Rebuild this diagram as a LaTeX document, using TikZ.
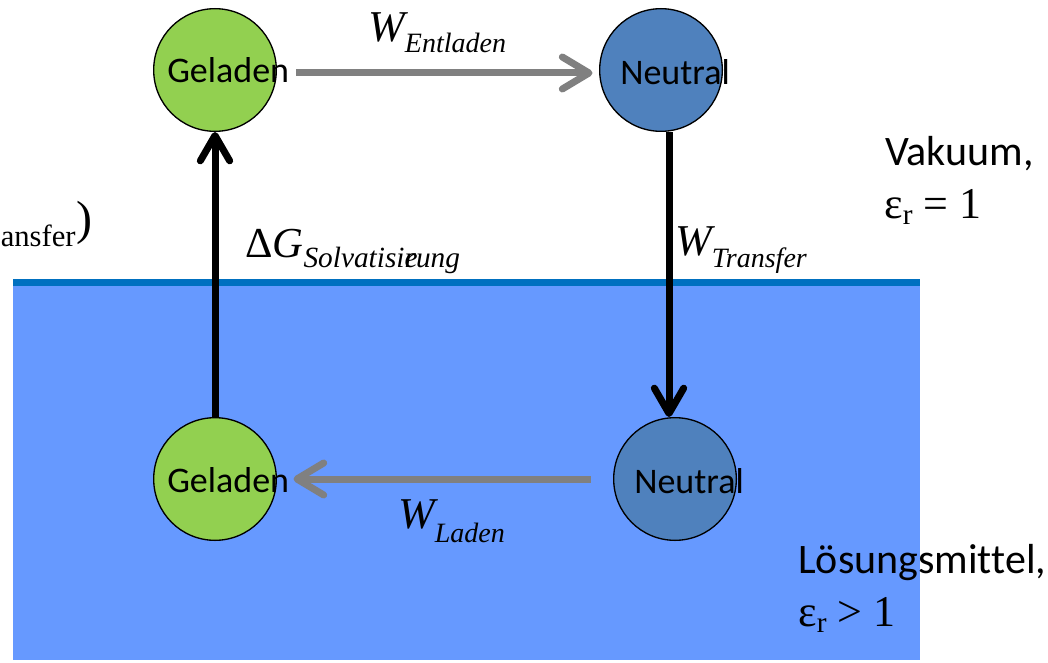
\documentclass[tikz,border=0pt]{standalone}
\usepackage{fontspec}
\setmainfont{Liberation Serif}
\newfontfamily\labelfont[Ligatures=NoCommon]{Carlito}
\usetikzlibrary{arrows.meta,calc}

\definecolor{chargedgreen}{HTML}{92D050}
\definecolor{neutralblue}{HTML}{4F81BD}
\definecolor{solvent}{HTML}{6699FF}
\definecolor{surface}{HTML}{0070C0}
\definecolor{workgray}{HTML}{808080}

\tikzset{
  state/.style={circle, draw=black, line width=1pt, minimum size=92pt, inner sep=0pt},
  charged/.style={state, fill=chargedgreen},
  neutral/.style={state, fill=neutralblue},
  statetext/.style={anchor=base west, inner sep=0pt, font=\labelfont\fontsize{27}{27}\selectfont},
  mediumtext/.style={anchor=base west, inner sep=0pt, font=\labelfont\fontsize{31.5}{31.5}\selectfont},
  formula/.style={anchor=base west, inner sep=0pt},
  workarrow/.style={draw=workgray, line width=5.25pt, -{Straight Barb[length=20pt, width=24pt, round]}},
  cyclearrow/.style={draw=black, line width=5.25pt, -{Straight Barb[length=19pt, width=22pt, round]}},
}

\newcommand{\wsym}[2]{{\fontsize{33}{33}\selectfont\itshape W\raisebox{#1}{\fontsize{21}{21}\selectfont #2}}}

\begin{document}
\begin{tikzpicture}[x=0.75pt, y=-0.75pt]
\useasboundingbox (0,0) rectangle (1048,663);

% solvent and its surface
\fill[solvent] (13,283) rectangle (920,660);
\fill[surface] (13,279) rectangle (920,286);

% states
\node[charged] (g1) at (215,70) {};
\node[neutral] (n1) at (661,70) {};
\node[charged] (g2) at (215,479) {};
\node[neutral] (n2) at (675,479) {};

% cycle
\draw[workarrow] ($(g1.east)+(19,3)$) -- ($(n1.west)+(-6.5,3)$);
\draw[cyclearrow] ($(n1.south)+(8,0)$) -- ($(n2.north)+(-6,0)$);
\draw[workarrow] ($(n2.west)+(-22.5,0)$) -- ($(g2.east)+(16.5,0)$);
\draw[cyclearrow] (g2.north) -- (g1.south);

% state labels
\node[statetext] (g1t) at (167,83) {Geladen};
\node[statetext] (n1t) at (620,85) {Neutral};
\node[statetext] (g2t) at (167,492) {Geladen};
\node[statetext] (n2t) at (634,493) {Neutral};

% work terms
\node[formula] (wE) at (368,42) {\wsym{-8.25pt}{Entladen}};
\node[formula] (wT) at (675,255) {\wsym{-9pt}{Transfer}};
\node[formula] (wL) at (398,528) {\wsym{-10.5pt}{Laden}};
\node[formula] (dG) at (245,257) {{\fontsize{32}{32}\selectfont\upshape\symbol{"0394}\itshape G\raisebox{-7.5pt}{\fontsize{22}{22}\selectfont Solvatisi\rlap{e}rung}}};

% term at the left edge
\node[formula] (tr) at (0.5,246) {\fontsize{23}{23}\selectfont ansfer};
\node[formula] (trp) at (tr.base east) {\fontsize{36}{36}\selectfont\raisebox{9pt}{)}};

% media
\node[mediumtext] (vac) at (885,166) {Vakuum,};
\node[formula] (vaceps) at (884,218) {{\fontsize{33}{33}\selectfont ε\raisebox{-4.5pt}{\fontsize{22}{22}\selectfont r} = 1}};
\node[mediumtext] (sol) at (798,573) {Lösungsmittel,};
\node[formula] (soleps) at (798,626) {{\fontsize{33}{33}\selectfont ε\raisebox{-4.5pt}{\fontsize{22}{22}\selectfont r} > 1}};
\end{tikzpicture}
\end{document}
